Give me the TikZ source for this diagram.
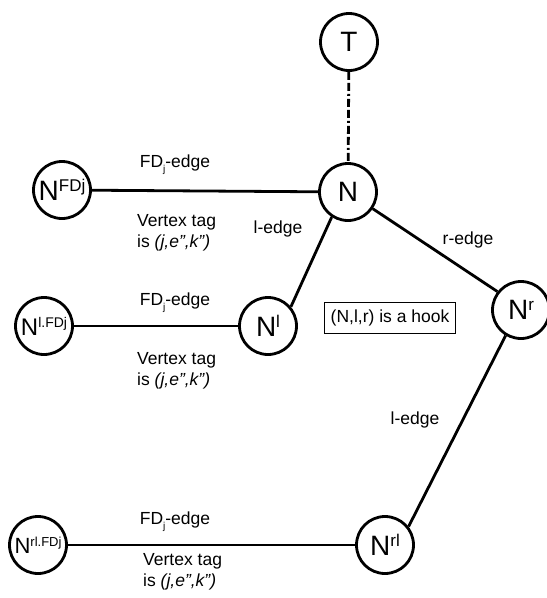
\documentclass[tikz,border=0pt]{standalone}
\usepackage{fontspec}
\setmainfont{Liberation Sans}
\newcommand{\lbl}{\fontsize{17.5}{21}\selectfont}
\newcommand{\FDj}{FD\raisebox{-5pt}{\fontsize{10}{10}\selectfont j}-edge}
\begin{document}
\begin{tikzpicture}[x=1pt,y=-1pt,
  vtx/.style={draw,circle,line width=2.8pt,minimum size=57pt,inner sep=0pt},
  edgeline/.style={line width=2.8pt},
  lab/.style={font=\lbl,inner sep=0pt},
  tagtext/.style={font=\lbl,inner sep=0pt,align=left,anchor=west}]
\useasboundingbox (0,0) rectangle (547,598);
% vertices
\node[vtx] (T) at (349,42) {\makebox[0pt]{\fontsize{28}{28}\selectfont T}};
\node[vtx] (N) at (348,192) {\makebox[0pt]{\fontsize{28}{28}\selectfont N}};
\node[vtx] (NF) at (62,190) {\makebox[0pt]{{\fontsize{28}{28}\selectfont N}\raisebox{9pt}{\fontsize{17}{17}\selectfont FDj}}};
\node[vtx] (Nl) at (268,326) {\makebox[0pt]{{\fontsize{28}{28}\selectfont N}\raisebox{9pt}{\fontsize{17}{17}\selectfont l}}};
\node[vtx] (NlF) at (44,326) {\makebox[0pt]{{\fontsize{24}{24}\selectfont N}\raisebox{8pt}{\fontsize{14}{14}\selectfont l.FDj}}};
\node[vtx] (Nr) at (521,310) {\makebox[0pt]{{\fontsize{28}{28}\selectfont N}\raisebox{9pt}{\fontsize{17}{17}\selectfont r}}};
\node[vtx] (Nrl) at (385,545) {\makebox[0pt]{{\fontsize{28}{28}\selectfont N}\raisebox{9pt}{\fontsize{17}{17}\selectfont rl}}};
\node[vtx] (NrlF) at (38,545) {\makebox[0pt]{{\fontsize{22}{22}\selectfont N}\raisebox{7pt}{\fontsize{13}{13}\selectfont rl.FDj}}};
% connectors
\draw[line width=2.8pt,dash pattern=on 8pt off 3pt on 8pt off 3pt on 2pt off 3pt] (T) -- (N);
\draw[edgeline] (NF) -- (N);
\draw[edgeline] (N.237) -- (Nl.40);
\draw[edgeline] (N.-34) -- (Nr.142);
\draw[edgeline] (NlF) -- (Nl);
\draw[edgeline] (Nr.239) -- (Nrl.38);
\draw[edgeline] (NrlF) -- (Nrl);
% labels
\node[lab] (e1) at (175,165) {\FDj};
\node[lab] (e2) at (175,303) {\FDj};
\node[lab] (e3) at (175,522) {\FDj};
\node[tagtext] (t1) at (137,233) {Vertex tag\\is \textit{(j,e”,k”)}};
\node[tagtext] (t2) at (137,371) {Vertex tag\\is \textit{(j,e”,k”)}};
\node[tagtext] (t3) at (143,572) {Vertex tag\\is \textit{(j,e”,k”)}};
\node[lab] (le1) at (278,229) {l-edge};
\node[lab] (re) at (468,240) {r-edge};
\node[lab] (le2) at (415,420) {l-edge};
\node[draw,line width=1.2pt,font=\lbl,inner sep=4pt,minimum width=131pt,minimum height=31pt] (hook) at (390,318) {(N,l,r) is a hook};
\end{tikzpicture}
\end{document}
